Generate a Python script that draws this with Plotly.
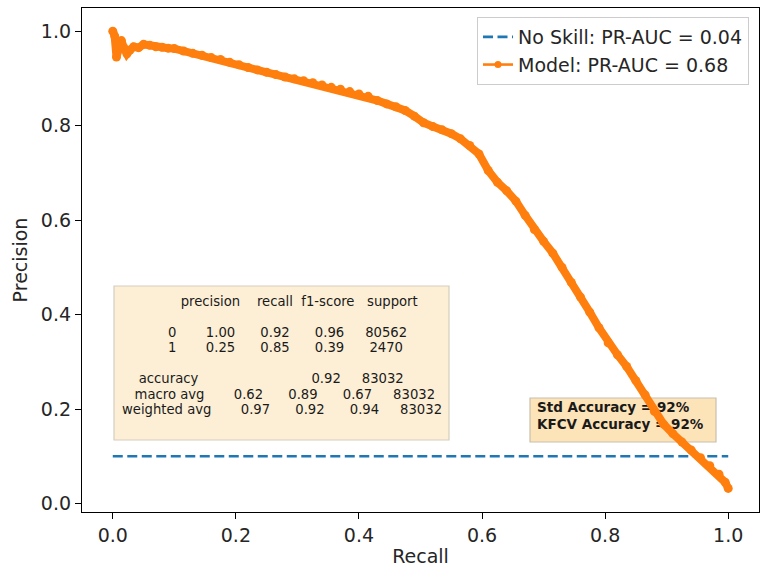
import plotly.graph_objects as go

# ---- data ----
recall = [0.000, 0.003, 0.006, 0.010, 0.014, 0.018, 0.023, 0.028, 0.034, 0.042,
          0.050, 0.060, 0.070, 0.080, 0.090, 0.100, 0.115, 0.130, 0.145, 0.160,
          0.175, 0.190, 0.205, 0.220, 0.235, 0.250, 0.265, 0.280, 0.295, 0.310,
          0.325, 0.340, 0.355, 0.370, 0.385, 0.400, 0.415, 0.430, 0.445, 0.460,
          0.475, 0.490, 0.505, 0.520, 0.535, 0.550, 0.565, 0.580, 0.595, 0.610,
          0.625, 0.640, 0.655, 0.670, 0.685, 0.700, 0.715, 0.730, 0.745, 0.760,
          0.775, 0.790, 0.805, 0.820, 0.835, 0.850, 0.865, 0.880, 0.895, 0.910,
          0.925, 0.940, 0.955, 0.970, 0.985, 0.995, 1.000]
precision = [1.000, 0.990, 0.945, 0.965, 0.980, 0.965, 0.952, 0.960, 0.967, 0.965,
             0.972, 0.970, 0.967, 0.966, 0.964, 0.963, 0.958, 0.953, 0.949, 0.944,
             0.940, 0.934, 0.929, 0.923, 0.918, 0.913, 0.908, 0.903, 0.899, 0.895,
             0.891, 0.886, 0.881, 0.877, 0.872, 0.867, 0.862, 0.853, 0.846, 0.840,
             0.832, 0.820, 0.806, 0.798, 0.791, 0.783, 0.772, 0.758, 0.740, 0.705,
             0.680, 0.662, 0.640, 0.610, 0.580, 0.555, 0.530, 0.500, 0.468, 0.437,
             0.405, 0.372, 0.340, 0.315, 0.290, 0.260, 0.230, 0.195, 0.168, 0.148,
             0.130, 0.113, 0.097, 0.080, 0.062, 0.045, 0.032]
no_skill_x = [0.0, 1.0]
no_skill_y = [0.1, 0.1]

no_skill_label = "No Skill: PR-AUC = 0.04"
model_label = "Model: PR-AUC = 0.68"

report_lines = [
    "              precision    recall  f1-score   support",
    "",
    "           0       1.00      0.92      0.96     80562",
    "           1       0.25      0.85      0.39      2470",
    "",
    "    accuracy                           0.92     83032",
    "   macro avg       0.62      0.89      0.67     83032",
    "weighted avg       0.97      0.92      0.94     83032",
]
acc_lines = ["Std Accuracy = 92%", "KFCV Accuracy = 92%"]

x_ticks = [0.0, 0.2, 0.4, 0.6, 0.8, 1.0]
y_ticks = [0.0, 0.2, 0.4, 0.6, 0.8, 1.0]

# ---- layout helpers (pixel geometry) ----
W, H = 765, 570
L, R, T, B = 82, 6, 8, 58
XR = [-0.05, 1.05]
YR = [-0.018, 1.049]
pw, ph = W - L - R, H - T - B

def px2x(px):
    return XR[0] + (px - L) / pw * (XR[1] - XR[0])

def px2y(py):
    return YR[1] - (py - T) / ph * (YR[1] - YR[0])

FONT = "DejaVu Sans"
FS = 19
BLUE = "#1f77b4"
ORANGE = "#ff7f0e"
TXT = "#262626"

fig = go.Figure()

fig.add_trace(go.Scatter(x=no_skill_x, y=no_skill_y, mode="lines",
                         line=dict(color=BLUE, width=2.6, dash="10px,4.5px"),
                         name=no_skill_label, showlegend=True))

# accuracy text (below the curve, like the reference)
fig.add_trace(go.Scatter(x=[px2x(537), px2x(537)], y=[px2y(409), px2y(426)],
                         mode="text", text=["<b>%s</b>" % s for s in acc_lines],
                         textposition="middle right",
                         textfont=dict(family=FONT, size=13.5, color="#1a1a1a"),
                         showlegend=False, hoverinfo="skip"))

fig.add_trace(go.Scatter(x=recall, y=precision, mode="lines+markers",
                         line=dict(color=ORANGE, width=8),
                         marker=dict(color=ORANGE, size=9),
                         name=model_label, showlegend=False))
# legend proxy for the model
fig.add_trace(go.Scatter(x=[None], y=[None], mode="lines+markers",
                         line=dict(color=ORANGE, width=2.6),
                         marker=dict(color=ORANGE, size=7),
                         name=model_label, showlegend=True))

# report box
fig.add_shape(type="rect", xref="x", yref="y",
              x0=px2x(114), x1=px2x(449), y0=px2y(440), y1=px2y(286),
              fillcolor="#fdefd6", line=dict(color="#d5cdbd", width=1.2), layer="below")
# accuracy box
fig.add_shape(type="rect", xref="x", yref="y",
              x0=px2x(530), x1=px2x(716), y0=px2y(442), y1=px2y(398),
              fillcolor="#fde3b8", line=dict(color="#c9bfad", width=1.2), layer="below")

line_y0, line_dy = 301, 15.5
for i, s in enumerate(report_lines):
    if not s:
        continue
    fig.add_annotation(x=px2x(120), y=px2y(line_y0 + i * line_dy), xref="x", yref="y",
                       text=s.replace(" ", "\u00a0"), showarrow=False,
                       xanchor="left", yanchor="middle", align="left",
                       font=dict(family=FONT, size=13.2, color="#1a1a1a"))

axis_common = dict(showline=True, linecolor="black", linewidth=1.3, mirror=True,
                   ticks="outside", ticklen=6, tickwidth=1.3, tickcolor="black",
                   showgrid=False, zeroline=False,
                   tickfont=dict(family=FONT, size=FS, color=TXT))

fig.update_layout(
    width=W, height=H,
    margin=dict(l=L, r=R, t=T, b=B),
    paper_bgcolor="white", plot_bgcolor="white",
    font=dict(family=FONT, size=FS, color=TXT),
    xaxis=dict(range=XR, tickvals=x_ticks, tickformat=".1f",
               title=dict(text="Recall", font=dict(family=FONT, size=FS), standoff=4),
               **axis_common),
    yaxis=dict(range=YR, tickvals=y_ticks, tickformat=".1f",
               title=dict(text="Precision", font=dict(family=FONT, size=FS), standoff=8),
               **axis_common),
    legend=dict(x=(749 - L) / pw, y=(H - B - 17) / ph, xanchor="right", yanchor="top",
                bgcolor="white", bordercolor="#cccccc", borderwidth=1,
                font=dict(family=FONT, size=FS, color=TXT)),
    showlegend=True,
)

fig.write_html("out.html")
